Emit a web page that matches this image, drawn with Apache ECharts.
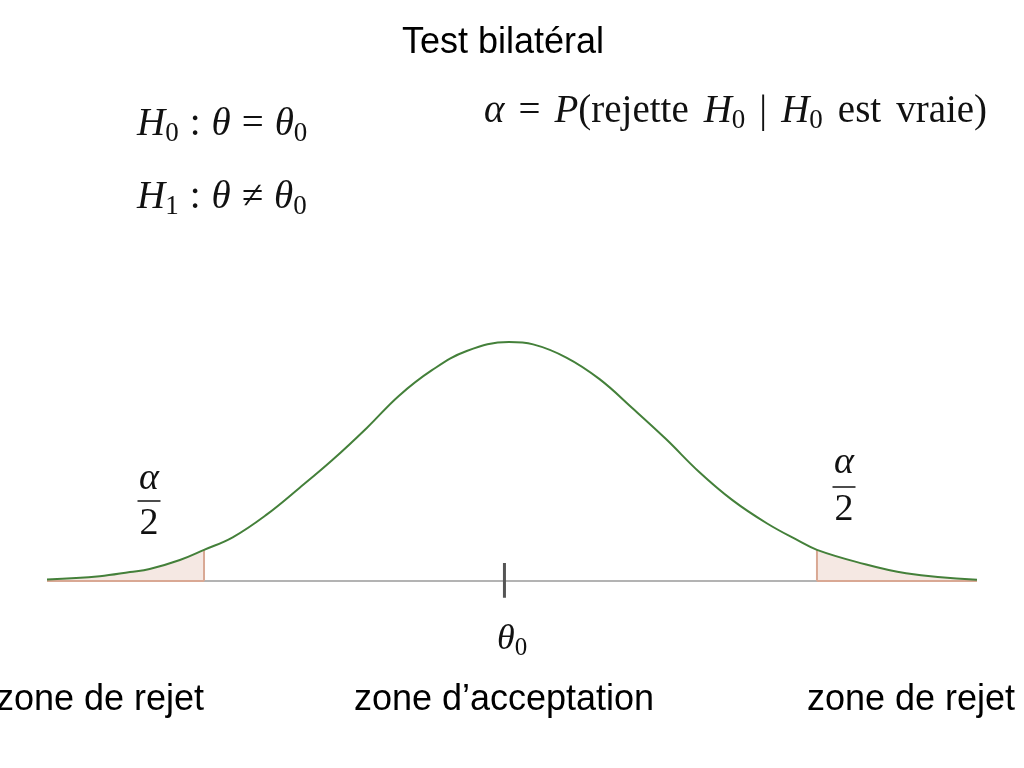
<!DOCTYPE html>
<html><head><meta charset="utf-8">
<script src="https://cdn.jsdelivr.net/npm/echarts/dist/echarts.min.js"></script>
<style>html,body{margin:0;padding:0;background:#fff}#c{width:1024px;height:768px}</style>
</head><body><div id="c"></div>
<script>
// Values (x in standard units, theta0 = 0)
const curveX = [-3.03, -2.68, -2.48, -2.35, -2.15, -1.99, -1.80, -1.58, -1.36, -1.14, -0.91, -0.70, -0.48, -0.25, 0.03, 0.19, 0.41, 0.63, 0.85, 1.07, 1.29, 1.51, 1.74, 1.95, 2.07, 2.33, 2.66, 3.13];
const curveY = [0.0025, 0.008, 0.015, 0.020, 0.035, 0.052, 0.073, 0.110, 0.155, 0.202, 0.256, 0.309, 0.352, 0.384, 0.399, 0.395, 0.373, 0.337, 0.288, 0.237, 0.182, 0.135, 0.096, 0.067, 0.052, 0.032, 0.013, 0.002];
const leftCut = -1.99;
const rightCut = 2.07;
const theta0 = 0;
const tickHalf = [-0.028, 0.030];
const axisMin = -3.03, axisMax = 3.13;
const titleText = 'Test bilatéral';
const zoneLabels = ['zone de rejet', 'zone d\u2019acceptation', 'zone de rejet'];

const curve = curveX.map((x, i) => [x, curveY[i]]);
const leftTail = curve.filter(p => p[0] <= leftCut + 1e-9);
const rightTail = curve.filter(p => p[0] >= rightCut - 1e-9);
const yAtLeft = curveY[curveX.indexOf(leftCut)];
const yAtRight = curveY[curveX.indexOf(rightCut)];

const serif = '"Liberation Serif", "DejaVu Serif", serif';
function makeRich(fs, gap, word) {
  return {
    i: { fontFamily: serif, fontStyle: 'italic', fontSize: fs, color: '#111', fill: '#111', lineHeight: fs + 5, verticalAlign: 'middle' },
    n: { fontFamily: serif, fontSize: fs, color: '#111', fill: '#111', lineHeight: fs + 5, verticalAlign: 'middle' },
    s: { fontFamily: serif, fontSize: Math.round(fs * 0.7), color: '#111', fill: '#111', lineHeight: Math.round(fs * 0.56), verticalAlign: 'bottom' },
    g: { fontFamily: serif, fontSize: fs, width: gap, lineHeight: fs + 5 },
    w: { fontFamily: serif, fontSize: fs, width: word, lineHeight: fs + 5 }
  };
}
function mathText(x, y, text, rich, align) {
  return { type: 'text', x: x, y: y, style: { text: text, rich: rich, align: align || 'left', textAlign: align || 'left', verticalAlign: 'middle', textVerticalAlign: 'middle', fill: '#111' } };
}
function plainText(x, y, text) {
  return { type: 'text', x: x, y: y, style: { text: text, fontFamily: '"Liberation Sans", Arial, sans-serif', fontSize: 36, fill: '#000', align: 'center', textAlign: 'center', verticalAlign: 'middle', textVerticalAlign: 'middle' } };
}
const hypRich = makeRich(39, 11, 14);
const alphaRich = makeRich(39, 14, 15);
const fracRich = makeRich(38, 10, 10);
const thetaRich = makeRich(36, 10, 10);
function frac(cx, yTop, yBar, yBot) {
  return [
    mathText(cx, yTop, '{i|α}', fracRich, 'center'),
    { type: 'line', shape: { x1: cx - 11.5, y1: yBar, x2: cx + 11.5, y2: yBar }, style: { stroke: '#111', lineWidth: 1.5 } },
    mathText(cx, yBot, '{n|2}', fracRich, 'center')
  ];
}

const lineSeries = (data, color, width, z) => ({ type: 'line', data: data, symbol: 'none', lineStyle: { color: color, width: width }, z: z, silent: true, animation: false });

const chart = echarts.init(document.getElementById('c'));
chart.setOption({
  backgroundColor: '#fff',
  animation: false,
  grid: { left: 47, right: 47, top: 341.4, bottom: 169 },
  xAxis: { type: 'value', min: axisMin, max: axisMax, show: false },
  yAxis: { type: 'value', min: -0.03, max: 0.40, show: false },
  series: [
    { type: 'line', data: leftTail, symbol: 'none', smooth: 0.4, lineStyle: { width: 0 }, areaStyle: { color: '#f5e8e3', opacity: 1 }, z: 1, animation: false },
    { type: 'line', data: rightTail, symbol: 'none', smooth: 0.4, lineStyle: { width: 0 }, areaStyle: { color: '#f5e8e3', opacity: 1 }, z: 1, animation: false },
    lineSeries([[axisMin, 0], [axisMax, 0]], '#9a9a9a', 1.5, 2),
    lineSeries([[axisMin, 0], [leftCut, 0]], '#d9a894', 2, 3),
    lineSeries([[rightCut, 0], [axisMax, 0]], '#d9a894', 2, 3),
    lineSeries([[leftCut, 0], [leftCut, yAtLeft]], '#d9a894', 2, 3),
    lineSeries([[rightCut, 0], [rightCut, yAtRight]], '#d9a894', 2, 3),
    lineSeries([[theta0, tickHalf[0]], [theta0, tickHalf[1]]], '#555', 3, 4),
    { type: 'line', data: curve, symbol: 'none', smooth: 0.4, lineStyle: { color: '#44803a', width: 2 }, z: 5, animation: false }
  ],
  graphic: [
    plainText(503, 43, titleText),
    mathText(137, 125, '{i|H}{s|0}{g| }{n|:}{g| }{i|θ}{g| }{n|=}{g| }{i|θ}{s|0}', hypRich),
    mathText(137, 198, '{i|H}{s|1}{g| }{n|:}{g| }{i|θ}{g| }{n|≠}{g| }{i|θ}{s|0}', hypRich),
    mathText(484, 112, '{i|α}{g| }{n|=}{g| }{i|P}{n|(rejette}{w| }{i|H}{s|0}{g| }{n||}{g| }{i|H}{s|0}{w| }{n|est}{w| }{n|vraie)}', alphaRich),
    ...frac(149, 479, 501, 524),
    ...frac(844, 463, 487, 510),
    mathText(497, 640, '{i|θ}{s|0}', thetaRich),
    plainText(100, 700, zoneLabels[0]),
    plainText(504, 700, zoneLabels[1]),
    plainText(911, 700, zoneLabels[2])
  ]
});
</script></body></html>
